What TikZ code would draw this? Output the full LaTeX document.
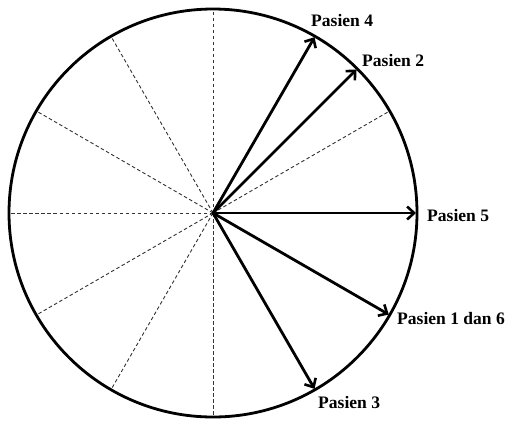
\documentclass[tikz,border=0pt]{standalone}
\usepackage{fontspec}
\setmainfont{Liberation Serif}
\usetikzlibrary{arrows.meta,calc}
\begin{document}
\begin{tikzpicture}[x=1bp,y=-1bp,
  spoke/.style={dash pattern=on 3.5bp off 2.5bp,line width=0.9bp,black!80},
  vec/.style={line width=2.8bp,-{Straight Barb[length=7bp,width=13bp,line width=2.6bp]},shorten >=1bp},
  lbl/.style={font=\bfseries\fontsize{17.6}{19}\selectfont,anchor=west,inner sep=0pt}]
\useasboundingbox (0,0) rectangle (528,422);
\coordinate (O) at (213,213);
\foreach \a in {30,90,120,150,180,210,240,270}
  \draw[spoke] (O) -- ++({204*cos(\a)},{-204*sin(\a)});
\draw[line width=2.8bp] (O) circle[radius=204];
\coordinate (p4) at ($(O)+({204*cos(60)},{-204*sin(60)})$);
\coordinate (p2) at ($(O)+({204*cos(45)},{-204*sin(45)})$);
\coordinate (p5) at ($(O)+(204,0)$);
\coordinate (p16) at ($(O)+({204*cos(-30)},{-204*sin(-30)})$);
\coordinate (p3) at ($(O)+({204*cos(-60)},{-204*sin(-60)})$);
\draw[vec] (O) -- (p4);
\draw[vec] (O) -- (p2);
\draw[vec] (O) -- (p5);
\draw[vec] (O) -- (p16);
\draw[vec] (O) -- (p3);
\node[lbl] (l4) at (311,20) {Pasien 4};
\node[lbl] (l2) at (362,60) {Pasien 2};
\node[lbl] (l5) at (427,215) {Pasien 5};
\node[lbl] (l16) at (397,318) {Pasien 1 dan 6};
\node[lbl] (l3) at (318,402) {Pasien 3};
\end{tikzpicture}
\end{document}
